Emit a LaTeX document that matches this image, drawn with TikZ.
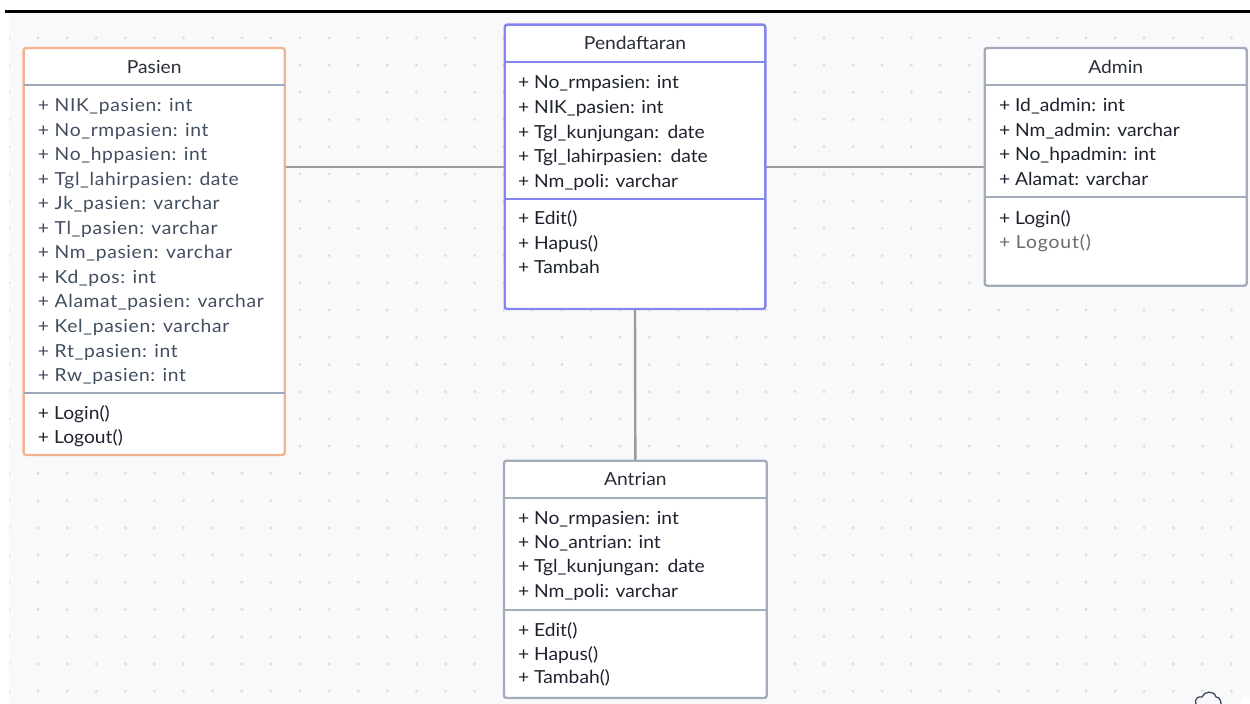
\documentclass[tikz,border=0pt]{standalone}
\usepackage{fontspec}
\setmainfont{Lato}[FakeStretch=1.07]
\newfontfamily\wideattr{Lato}[FakeStretch=1.07, LetterSpace=3.5]
\newfontfamily\widemuted{Lato}[FakeStretch=1.07, LetterSpace=5]
\usetikzlibrary{backgrounds}
\definecolor{bgc}{HTML}{F9F9FB}
\definecolor{dotc}{HTML}{DCDDE2}
\definecolor{orangec}{HTML}{F2B38E}
\definecolor{bluec}{HTML}{8585F0}
\definecolor{grayc}{HTML}{A3ACBD}
\definecolor{sepc}{HTML}{9CA6B6}
\definecolor{linkc}{HTML}{9B9B9B}
\definecolor{attrc}{HTML}{414E60}
\definecolor{methc}{HTML}{1F2330}
\definecolor{titlec}{HTML}{2A2E3B}
\definecolor{mutedc}{HTML}{6B6B6B}
\definecolor{iconc}{HTML}{3A4A5C}
\tikzset{
  classbox/.style={rectangle, draw, fill=white, line width=2.4bp, rounded corners=2.5bp, inner sep=0pt, outer sep=0pt},
  sepline/.style={line width=2.2bp},
  link/.style={draw=linkc, line width=2.4bp},
  txt/.style={inner sep=0pt, anchor=base west, font=\fontsize{18bp}{22bp}\selectfont},
  attr/.style={txt, text=attrc, font=\fontsize{18bp}{22bp}\selectfont\wideattr},
  meth/.style={txt, text=methc},
  muted/.style={txt, text=mutedc, font=\fontsize{18bp}{22bp}\selectfont\widemuted},
  ctitle/.style={txt, anchor=base, text=titlec},
}
\begin{document}
\begin{tikzpicture}[x=1bp,y=-1bp]
\useasboundingbox (0,0) rectangle (1250,704);

% class boxes
\node[classbox, draw=orangec, minimum width=261bp, minimum height=407bp] (pasien) at (154.2,251.5) {};
\node[classbox, draw=bluec, minimum width=260.6bp, minimum height=284.3bp] (pend) at (635,166.85) {};
\node[classbox, draw=grayc, minimum width=262bp, minimum height=237.7bp] (admin) at (1115.7,166.85) {};
\node[classbox, draw=grayc, minimum width=262.7bp, minimum height=237.3bp] (antrian) at (635.35,579.35) {};

\begin{scope}[on background layer]
  \fill[white] (0,0) rectangle (1250,704);
  \fill[bgc] (9,12.5) rectangle (1250,704);
  \draw[black, line width=2.2bp] (5,11.5) -- (1250,11.5);
  \begin{scope}
    \clip (9,13) rectangle (1250,704);
    \foreach \i in {0,...,42}{
      \foreach \j in {0,...,24}{
        \fill[dotc] (8.9+29.11*\i, 37.9+27.22*\j) circle (1.6bp);
      }
    }
  \end{scope}
  % connectors
  \draw[link] (pend.west -| pasien.east) -- (pend.west);
  \draw[link] (pend.east) -- (admin.west);
  \draw[link] (pend.south) -- (antrian.north);
\end{scope}

% separators
\draw[sepline, draw=sepc] (pasien.west |- 0,85.3) -- (pasien.east |- 0,85.3);
\draw[sepline, draw=sepc] (pasien.west |- 0,393.3) -- (pasien.east |- 0,393.3);
\draw[sepline, draw=bluec] (pend.west |- 0,62) -- (pend.east |- 0,62);
\draw[sepline, draw=bluec] (pend.west |- 0,198.7) -- (pend.east |- 0,198.7);
\draw[sepline, draw=grayc] (admin.west |- 0,84.7) -- (admin.east |- 0,84.7);
\draw[sepline, draw=grayc] (admin.west |- 0,197) -- (admin.east |- 0,197);
\draw[sepline, draw=grayc] (antrian.west |- 0,498) -- (antrian.east |- 0,498);
\draw[sepline, draw=grayc] (antrian.west |- 0,609.7) -- (antrian.east |- 0,609.7);

% titles
\node[ctitle] (pasienT) at (pasien.center |- 0,73.3) {Pasien};
\node[ctitle] (pendT) at (pend.center |- 0,50) {Pendaftaran};
\node[ctitle] (adminT) at (admin.center |- 0,73.3) {Admin};
\node[ctitle] (antrianT) at (antrian.center |- 0,485.7) {Antrian};

% Pasien
\foreach \t [count=\i from 0] in {+ NIK\_pasien: int, + No\_rmpasien: int, + No\_hppasien: int, + Tgl\_lahirpasien: date, + Jk\_pasien: varchar, + Tl\_pasien: varchar, + Nm\_pasien: varchar, + Kd\_pos: int, + Alamat\_pasien: varchar, + Kel\_pasien: varchar, + Rt\_pasien: int, + Rw\_pasien: int}
  \node[attr] (pasA\i) at (37.8, 111.5+24.55*\i) {\t};
\node[meth] (pasM0) at (37.8,419.3) {+ Login()};
\node[meth] (pasM1) at (37.8,443.5) {+ Logout()};

% Pendaftaran
\foreach \t [count=\i from 0] in {+ No\_rmpasien: int, + NIK\_pasien: int, + Tgl\_kunjungan:\ \hspace{3.5bp}date, + Tgl\_lahirpasien:\ \hspace{3.5bp}date, + Nm\_poli: varchar}
  \node[meth] (pendA\i) at (517.8, 88.3+24.9*\i) {\t};
\foreach \t [count=\i from 0] in {+ Edit(), + Hapus(), + Tambah}
  \node[meth] (pendM\i) at (517.8, 225+24.2*\i) {\t};

% Admin
\foreach \t [count=\i from 0] in {+ Id\_admin: int, + Nm\_admin: varchar, + No\_hpadmin: int, + Alamat: varchar}
  \node[meth] (admA\i) at (998.8, 111.7+24.45*\i) {\t};
\node[meth] (admM0) at (998.8,224.3) {+ Login()};
\node[muted] (admM1) at (998.8,248.3) {+ Logout()};

% Antrian
\foreach \t [count=\i from 0] in {+ No\_rmpasien: int, + No\_antrian: int, + Tgl\_kunjungan:\ \hspace{3.5bp}date, + Nm\_poli: varchar}
  \node[meth] (antA\i) at (517.8, 524+24.4*\i) {\t};
\foreach \t [count=\i from 0] in {+ Edit(), + Hapus(), + Tambah()}
  \node[meth] (antM\i) at (517.8, 636.7+23.3*\i) {\t};

% bottom-right corner
\draw[iconc, line width=1.3bp] (1196,704) .. controls (1194,699) and (1198,696) .. (1202,697) .. controls (1204,691) and (1214,690) .. (1216,697) .. controls (1219,697) and (1221,700) .. (1221,704);
\fill[white] (1242,704) -- (1242,700) .. controls (1242,697) .. (1245,697) -- (1250,697) -- (1250,704) -- cycle;
\end{tikzpicture}
\end{document}
